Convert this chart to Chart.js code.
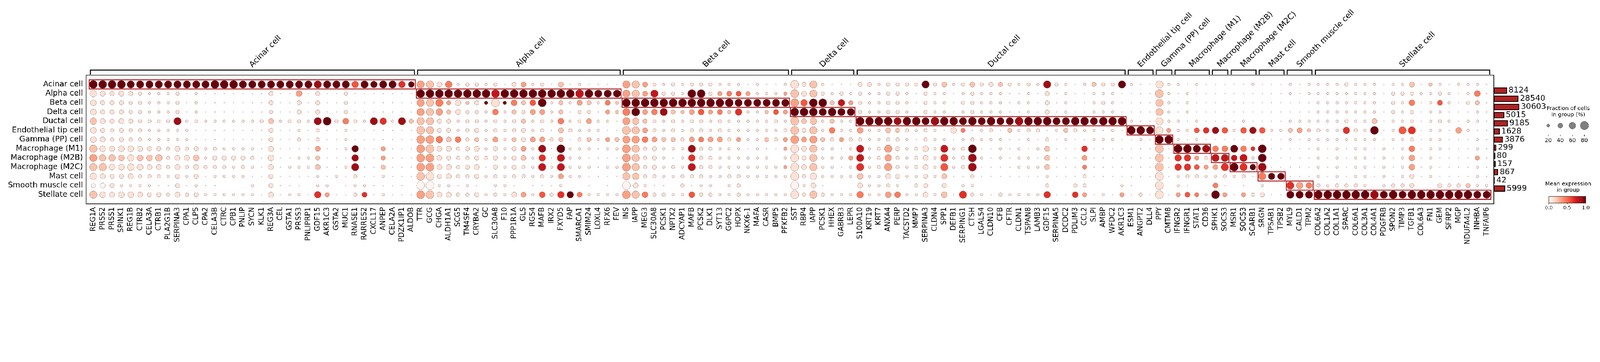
<!DOCTYPE html>
<html>
<head>
<meta charset="utf-8">
<script src="https://cdn.jsdelivr.net/npm/chart.js@4.4.1/dist/chart.umd.min.js"></script>
<style>
  html, body { margin: 0; padding: 0; background: #fff; overflow: hidden; }
  #wrap { position: relative; width: 5845px; height: 927px; transform-origin: 0 0; }
  canvas { position: absolute; top: 0; }
</style>
</head>
<body>
<div id="wrap">
  <canvas id="dots" width="5845" height="927" style="left:0"></canvas>
  <canvas id="counts" width="250" height="927" style="left:5457px"></canvas>
</div>
<script>
const genes = [
  "REG1A","PRSS2","PRSS1","SPINK1","REG1B","CTRB2","CELA3A","CTRB1","PLA2G1B","SERPINA3","CPA1","CLPS","CPA2","CELA3B","CTRC","CPB1","PNLIP","SYCN","KLK1","REG3A","CEL","GSTA1","PRSS3","PNLIPRP1","GDF15","AKR1C3","GSTA2","MUC1","RNASE1","RARRES2","CXCL17","ANPEP","CELA2A","PDZK1IP1","ALDOB",
  "TTR","GCG","CHGA","ALDH1A1","SCG5","TM4SF4","CRYBA2","GC","SLC30A8","F10","PPP1R1A","GLS","RGS4","MAFB","IRX2","FXYD5","FAP","SMARCA1","SMIM24","LOXL4","RFX6","FEV",
  "INS","IAPP","MEG3","SLC30A8","PCSK1","NPTX2","ADCYAP1","MAFB","PCSK2","DLK1","SYT13","G6PC2","HOPX","NKX6-1","MAFA","CASR","BMP5","PFKFB2",
  "SST","RBP4","IAPP","PCSK1","HHEX","GABRB3","LEPR",
  "S100A10","KRT19","KRT7","ANXA4","PERP","TACSTD2","MMP7","SERPINA3","CLDN4","SPP1","DEFB1","SERPING1","CTSH","LGALS4","CLDN10","CFB","CFTR","CLDN1","TSPAN8","LAMB3","GDF15","SERPINA5","DCDC2","PDLIM3","CCL2","SLPI","AMBP","WFDC2","AKR1C3",
  "ESM1","ANGPT2","DLL4",
  "PPY","CMTM8",
  "IFNGR2","IFNGR1","STAT1","CD36",
  "SPHK1","SOCS3",
  "MSR1","SOCS3","SCARB1",
  "SRGN","TPSAB1","TPSB2",
  "MYL9","CALD1","TPM2",
  "COL6A2","COL1A2","COL1A1","SPARC","COL6A1","COL3A1","COL4A1","PDGFRB","SPON2","TIMP3","TGFB1","COL6A3","FN1","GEM","SFRP2","MGP","NDUFA4L2","INHBA","TNFAIP6"
]

const cellTypes = ["Acinar cell","Alpha cell","Beta cell","Delta cell","Ductal cell","Endothelial tip cell","Gamma (PP) cell","Macrophage (M1)","Macrophage (M2B)","Macrophage (M2C)","Mast cell","Smooth muscle cell","Stellate cell"]
const groupSizes = [35, 22, 18, 7, 29, 3, 2, 4, 2, 3, 3, 3, 19]
const cellCounts = [8124, 28540, 30603, 5015, 9185, 1628, 3876, 299, 80, 157, 867, 42, 5999]

// fraction of cells, one digit per gene (0 none, 1 ~3%, n ~ n*8.5%), groups split by |
const fracCodes = [
  "99998 88888 88899 98888 88888 88878 78876|88572 33231 45231 51211 11|88532 32333 22212 112|9482111|44233 33835 23534 43232 83212 4338|211|82|2121|11|112|111|212|22232 22122 51321 2221",
  "75454 32223 12111 11114 11614 11311 11111|99999 99999 99999 99998 88|88583 32993 45542 223|9583232|32233 21322 12322 21121 41211 2221|111|92|1211|11|111|111|212|22222 22133 32232 1261",
  "64443 32223 12111 11114 11414 11311 11111|88846 34393 64692 42542 53|99999 99999 99888 888|9799474|32233 21322 13322 21221 41211 2321|111|82|1211|11|111|111|111|22222 22132 61252 1341",
  "64443 32223 12111 11113 11414 11311 11111|88745 33262 43552 41331 43|89568 43564 53722 354|9998988|32233 21322 12322 21121 41211 2221|111|82|1211|11|111|111|111|22222 22132 31221 1121",
  "75454 33338 23222 22235 23328 93632 87284|88442 33232 34232 62352 21|87432 32332 32222 232|9572422|99998 99899 98989 88999 98899 8999|211|82|2121|11|121|111|222|22232 25122 31232 1221",
  "64343 32222 21111 11114 11213 11211 11111|98442 34232 34231 53222 11|98532 32332 32222 223|9482622|62254 32321 64123 14233 12432 2121|998|84|2256|76|267|622|453|32273 29128 81221 6211",
  "65343 32222 21111 11114 11313 11211 11111|99756 34252 44553 41342 44|88654 43555 53422 434|9584343|32233 21322 12322 21121 31211 2221|121|99|2121|11|111|111|212|22222 22122 31221 1121",
  "86566 54435 34232 22215 11115 11271 14111|99553 45242 45281 92221 22|98342 22833 22212 113|9582212|82384 23628 23911 21212 51116 1111|111|91|9988|66|864|911|111|21212 21212 61221 1121",
  "87767 66735 56244 44316 11224 11171 14111|99543 34342 45271 82211 11|98342 12733 22222 202|9482224|82373 23528 23921 21221 51115 1111|111|91|7743|88|682|911|111|21212 21212 61211 1141",
  "88667 65535 35333 23215 12225 11281 14111|99553 45142 43282 82221 22|98342 32833 22222 223|9582212|82383 23528 23911 11222 51114 1111|111|91|7754|58|986|911|111|21212 21212 61211 1121",
  "75445 33324 24122 22114 11112 12131 12111|99453 34232 33232 52211 11|87332 23332 23322 222|9372222|62254 22425 11311 11111 21113 1111|111|91|2332|23|231|877|111|21212 21212 41211 1121",
  "45422 22114 12110 00204 11102 20122 11110|99221 21022 10111 20010 10|95211 03122 02300 000|9251000|52232 03404 02200 00000 30033 0002|100|90|2100|51|010|200|876|32333 20233 40043 3422",
  "86566 54435 34222 22215 12217 41135 12111|99553 34232 55263 77522 22|98633 22633 22322 222|9383222|72266 22526 18321 32222 71164 1214|131|91|4542|94|143|411|888|99999 99898 99999 9988"
]

// mean expression, one digit per gene (n / 9), empty groups are all 1
const exprCodes = [
  "99999 99999 99999 99999 99998 99959 99969|32141 11111 13111 21111 11|32311 11111 11111 111|1121111|11111 11912 11211 21111 81111 2119|111|11|1111|11|111|111|111|11111 11111 21211 1111",
  "11111 11111 11111 11111 11311 11111 11111|99999 99979 99999 99799 99|32371 11991 34531 113|2121111||111|21|1111|11|111|111|111|11111 11111 11111 1141",
  "|32431 21919 42591 21321 42|99999 99999 99999 999|3599273||111|21|1111|11|111|111|111|11111 11111 41151 1121",
  "|32321 11141 21331 21111 32|49348 22353 42611 253|9999999||111|21|1111|11|111|111|111|",
  "21111 11118 11111 11112 11118 91411 86182|22111 11111 12111 41131 11|32211 11111 11111 111|2221211|99998 99989 99999 99899 99999 9999|111|11|1111|11|111|111|111|11111 12111 11111 1111",
  "|22111 11111 11111 21111 11|22311 11111 11111 111|2121411|31122 11111 14211 12111 11211 1111|999|13|1156|85|158|511|232|11161 19115 61111 3111",
  "|33424 12131 21331 21121 32|33432 21343 31311 213|3332131||111|99|1111|11|111|111|111|",
  "21111 11111 11111 11111 11113 11191 13111|32111 11111 13181 91111 11|32111 11811 11111 113|1121111|71131 11117 11911 11111 21116 1111|111|21|9998|44|946|911|111|11111 11111 41111 1111",
  "32221 22211 12111 11111 11112 11181 13111|33111 11111 12161 71111 11|32111 11611 11111 111|1121113|71131 11116 11811 11111 21113 1111|111|21|6631|77|771|911|111|11111 11111 31111 1131",
  "22111 11111 11111 11111 11112 11181 12111|33111 11111 11171 71111 11|32111 11711 11111 113|1121111|61131 11115 11811 11111 21114 1111|111|21|6653|36|969|811|111|11111 11111 31111 1111",
  "|21111 11111 11111 31111 11|22111 11111 11111 111|1111111|21111 11112 11111 11111 11111 1111|111|11|1111|11|111|499|111|",
  "00111 11111 11111 11111 11111 11111 11111|00111 11111 11111 11111 11|01111 11111 11111 111|0111111||111|11|1111|41|111|111|634|11111 11111 11111 1211",
  "21111 11111 11111 11111 11116 31116 11111|32111 11111 13151 69411 11|32411 11511 11111 111|1121111|41134 11112 16111 11111 61163 1113|111|11|3541|93|131|111|999|99999 98999 99999 9999"
]

const sizeLegend = [20, 40, 60, 80]
const colorTicks = ["0.0", "0.5", "1.0"]

// keep the whole figure inside the window if it is narrower than the figure
const fit = Math.min(1, window.innerWidth / 5845)
if(fit < 1) document.getElementById("wrap").style.transform = "scale(" + fit + ")"

function decodeRow(code, fill){
  const parts = code.split("|")
  return groupSizes.map((n, g)=>{
    let s = (parts[g] || "").replace(/\s/g, "")
    while(s.length < n) s += fill
    return s.slice(0, n)
  }).join("").split("").map(Number)
}

function fracFromCode(d){
  return d === 0 ? 0 : d === 1 ? 3 : d * 8.5
}

function radius(frac){
  return 15.5 * Math.pow(frac / 80, 0.75)
}

const redStops = ["#fff5f0","#fee0d2","#fcbba1","#fc9272","#fb6a4a","#ef3b2c","#cb181d","#a50f15","#67000d"]
function hexRgb(h){ return [1,3,5].map(i=>parseInt(h.substr(i,2),16)) }
function reds(v){
  v = Math.max(0, Math.min(1, v)) * (redStops.length - 1)
  const i = Math.min(Math.floor(v), redStops.length - 2), t = v - i
  const a = hexRgb(redStops[i]), b = hexRgb(redStops[i+1])
  return "rgb(" + a.map((c,k)=>Math.round(c + (b[k]-c)*t)).join(",") + ")"
}

const groupNames = cellTypes
const groupStart = groupSizes.map((n,i)=>groupSizes.slice(0,i).reduce((s,v)=>s+v,0))

const points = []
cellTypes.forEach((ct, r)=>{
  const fr = decodeRow(fracCodes[r], "0"), ex = decodeRow(exprCodes[r], "1")
  fr.forEach((d, c)=>{
    const f = fracFromCode(d)
    if(f > 0) points.push({x: c, y: r, r: radius(f), e: ex[c] / 9})
  })
})

const FONT = "DejaVu Sans"
Chart.defaults.font.family = FONT
Chart.defaults.color = "#000"

const decor = {
  id: "decor",
  afterDraw(chart){
    const {ctx, chartArea: a, scales: {x, y}} = chart
    ctx.save()
    ctx.strokeStyle = "#222"
    ctx.lineWidth = 2.5
    ctx.strokeRect(a.left, a.top, a.right - a.left, a.bottom - a.top)

    // highlight boxes
    ctx.strokeStyle = "#b22222"
    ctx.lineWidth = 3.5
    groupSizes.forEach((n, g)=>{
      const x0 = x.getPixelForValue(groupStart[g] - 0.5), x1 = x.getPixelForValue(groupStart[g] + n - 0.5)
      const y0 = y.getPixelForValue(g - 0.5), y1 = y.getPixelForValue(g + 0.5)
      ctx.strokeRect(x0 + 2, y0, x1 - x0 - 4, y1 - y0)
    })

    // group brackets
    ctx.strokeStyle = "#000"
    ctx.lineWidth = 3.5
    ctx.fillStyle = "#000"
    ctx.font = "29px " + FONT
    groupSizes.forEach((n, g)=>{
      const x0 = x.getPixelForValue(groupStart[g] - 0.5) + 6, x1 = x.getPixelForValue(groupStart[g] + n - 0.5) - 6
      ctx.beginPath()
      ctx.moveTo(x0, 273); ctx.lineTo(x0, 256); ctx.lineTo(x1, 256); ctx.lineTo(x1, 273)
      ctx.stroke()
      ctx.save()
      ctx.translate((x0 + x1) / 2, 247)
      ctx.rotate(-Math.PI / 4)
      ctx.textAlign = "left"
      ctx.textBaseline = "alphabetic"
      ctx.fillText(groupNames[g], 0, 0)
      ctx.restore()
    })

    // size legend
    ctx.textAlign = "center"
    ctx.textBaseline = "middle"
    ctx.font = "20px " + FONT
    ctx.fillText("Fraction of cells", 5729, 397)
    ctx.fillText("in group (%)", 5729, 420)
    sizeLegend.forEach((f, i)=>{
      const cx = 5656 + i * 44
      ctx.beginPath()
      ctx.arc(cx, 459, radius(f), 0, Math.PI * 2)
      ctx.fillStyle = "#808080"
      ctx.fill()
      ctx.strokeStyle = "#666"
      ctx.lineWidth = 1
      ctx.stroke()
      ctx.strokeStyle = "#000"
      ctx.lineWidth = 1.5
      ctx.beginPath(); ctx.moveTo(cx, 492); ctx.lineTo(cx, 498); ctx.stroke()
      ctx.fillStyle = "#000"
      ctx.fillText(String(f), cx, 514)
    })

    // colour bar
    ctx.fillText("Mean expression", 5729, 673)
    ctx.fillText("in group", 5729, 695)
    const gx0 = 5658, gx1 = 5793
    for(let px = gx0; px < gx1; px++){
      ctx.fillStyle = reds((px - gx0) / (gx1 - gx0))
      ctx.fillRect(px, 718, 1.5, 24)
    }
    ctx.strokeStyle = "#000"
    ctx.lineWidth = 1
    ctx.strokeRect(gx0, 718, gx1 - gx0, 24)
    ctx.fillStyle = "#000"
    ctx.font = "18px " + FONT
    colorTicks.forEach((t, i)=>{
      const tx = gx0 + i * (gx1 - gx0) / 2
      ctx.beginPath(); ctx.moveTo(tx, 742); ctx.lineTo(tx, 747); ctx.stroke()
      ctx.fillText(t, tx, 760)
    })
    ctx.restore()
  }
}

new Chart(document.getElementById("dots"), {
  type: "bubble",
  data: {
    datasets: [{
      data: points,
      backgroundColor: c => c.raw ? reds(c.raw.e) : "#fff",
      borderColor: "#8a7a7a",
      borderWidth: 1
    }]
  },
  options: {
    responsive: false,
    animation: false,
    devicePixelRatio: 1,
    events: [],
    layout: { padding: { top: 275, right: 388, left: 0, bottom: 0 } },
    plugins: { legend: { display: false }, tooltip: { enabled: false } },
    scales: {
      x: {
        type: "linear", min: -0.76, max: 149.76,
        afterBuildTicks: s => { s.ticks = genes.map((g, i)=>({value: i})) },
        afterFit: s => { s.height = 182 },
        ticks: { autoSkip: false, minRotation: 90, maxRotation: 90, padding: 4, font: { size: 26 }, callback: v => genes[v] },
        grid: { display: false, drawTicks: true, tickLength: 8, tickColor: "#000" },
        border: { display: false }
      },
      y: {
        type: "linear", min: -1, max: 13, reverse: true,
        afterBuildTicks: s => { s.ticks = cellTypes.map((c, i)=>({value: i})) },
        afterFit: s => { s.width = 315 },
        ticks: { autoSkip: false, padding: 4, font: { size: 28 }, callback: v => cellTypes[v] },
        grid: { display: false, drawTicks: true, tickLength: 8, tickColor: "#000" },
        border: { display: false }
      }
    }
  },
  plugins: [decor]
})

const countLabels = {
  id: "countLabels",
  afterDatasetsDraw(chart){
    const {ctx} = chart
    ctx.save()
    ctx.font = "29px " + FONT
    ctx.fillStyle = "#000"
    ctx.textBaseline = "middle"
    chart.getDatasetMeta(0).data.forEach((el, i)=>{
      ctx.fillText(String(cellCounts[i]), el.x + 6, el.y)
    })
    ctx.restore()
  }
}

new Chart(document.getElementById("counts"), {
  type: "bar",
  data: {
    datasets: [{
      data: cellCounts.map((n, i)=>({x: Math.sqrt(n), y: i})),
      backgroundColor: "#b22222",
      borderColor: "#000",
      borderWidth: 3,
      borderSkipped: false,
      barThickness: 22
    }]
  },
  options: {
    indexAxis: "y",
    responsive: false,
    animation: false,
    devicePixelRatio: 1,
    events: [],
    layout: { padding: { top: 275, bottom: 182, left: 0, right: 0 } },
    plugins: { legend: { display: false }, tooltip: { enabled: false } },
    scales: {
      x: { type: "linear", min: 0, max: 470, display: false },
      y: { type: "linear", min: -1, max: 13, reverse: true, display: false }
    }
  },
  plugins: [countLabels]
})
</script>
</body>
</html>
